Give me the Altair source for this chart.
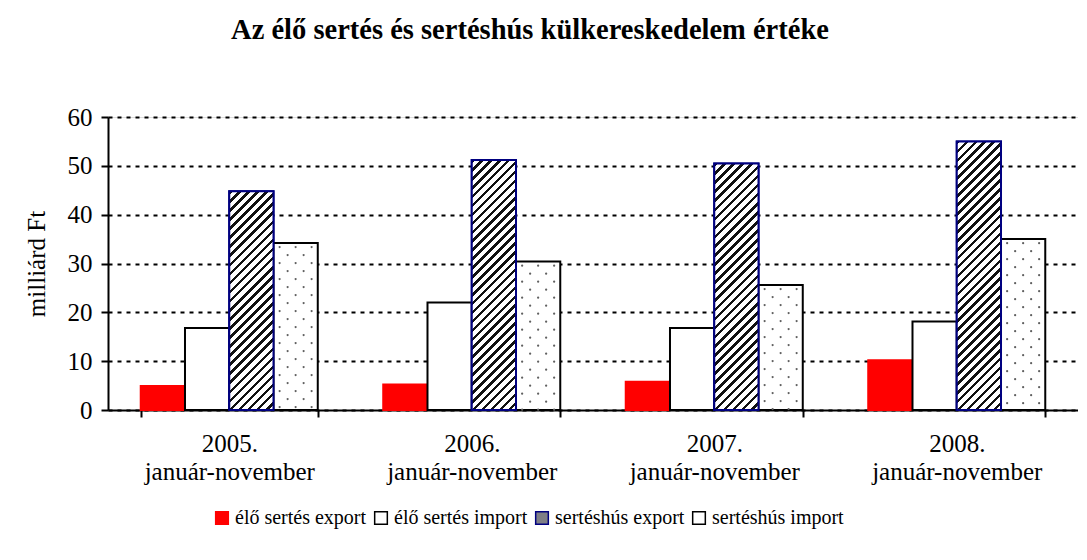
import math
import altair as alt
import pandas as pd

# ---- data ----
years = ["2005.|január-november", "2006.|január-november",
         "2007.|január-november", "2008.|január-november"]
series = ["élő sertés export", "élő sertés import",
          "sertéshús export", "sertéshús import"]
elo_export = [4.9, 5.2, 5.8, 10.2]
elo_import = [16.8, 22.0, 16.8, 18.1]
hus_export = [44.8, 51.2, 50.5, 55.0]
hus_import = [34.2, 30.4, 25.6, 35.0]
y_ticks = [0, 10, 20, 30, 40, 50, 60]

rows = []
for vals, s in zip([elo_export, elo_import, hus_export, hus_import], series):
    for y, v in zip(years, vals):
        rows.append({"year": y, "series": s, "value": v})
df = pd.DataFrame(rows)

# ---- layout / style ----
FONT = "Liberation Serif"
FS = 25
W, H = 970, 293
PAD_IN, PAD_OUT = 0.27, 0.135
step = W / (len(years) - PAD_IN + 2 * PAD_OUT)
band = step * (1 - PAD_IN)
bw = band / len(series)
YMAX = 60

x_enc = alt.X("year:N", sort=years,
              scale=alt.Scale(domain=years, paddingInner=PAD_IN, paddingOuter=PAD_OUT),
              axis=alt.Axis(title=None, labelExpr="split(datum.label, '|')",
                            labelFont=FONT, labelFontSize=FS, labelColor="black",
                            labelLineHeight=28, labelPadding=14, labelAngle=0,
                            tickBand="extent", tickSize=7, tickWidth=2, tickColor="black",
                            domainColor="black", domainWidth=2, grid=False))
y_enc = alt.Y("value:Q",
              scale=alt.Scale(domain=[0, YMAX], nice=False),
              axis=alt.Axis(title="milliárd Ft", values=y_ticks,
                            titleFont=FONT, titleFontSize=FS, titleFontWeight="normal",
                            titleColor="black", titleX=-72, titleY=H / 2,
                            titleAngle=-90, titleBaseline="middle", titleAlign="center",
                            labelFont=FONT, labelFontSize=FS, labelColor="black",
                            labelPadding=9, tickSize=7, tickWidth=2, tickColor="black",
                            domainColor="black", domainWidth=2,
                            grid=True, gridColor="black", gridWidth=2,
                            gridDash=[4, 5]))
xoff = alt.XOffset("series:N", sort=series, scale=alt.Scale(domain=series))

base = alt.Chart(df).mark_bar(strokeWidth=2).encode(
    x=x_enc, y=y_enc, xOffset=xoff,
    fill=alt.Fill("series:N", sort=series,
                  scale=alt.Scale(domain=series,
                                  range=["#ff0000", "#ffffff", "#7f7f86", "#ffffff"]),
                  legend=alt.Legend(title=None, orient="none", direction="horizontal",
                                    legendX=104, legendY=391, symbolType="square",
                                    symbolSize=160, symbolStrokeWidth=1.5,
                                    labelFont=FONT, labelFontSize=20, labelColor="black",
                                    labelOffset=3, columnPadding=4, padding=0,
                                    labelLimit=400)),
    stroke=alt.Stroke("series:N", sort=series,
                      scale=alt.Scale(domain=series,
                                      range=["#ff0000", "#000000", "#000080", "#000000"]),
                      legend=None),
)


def hatch(h_px, w_px, period_h=9.0, frac=0.4):
    """Diagonal '/' stripe gradient for a bar of the given pixel size."""
    s = (w_px + h_px) / (w_px ** 2 + h_px ** 2)
    n = max(1, round((w_px + h_px) / period_h))
    stops = []
    for k in range(n):
        a, b, c = k / n, (k + frac) / n, (k + 1) / n
        stops += [{"offset": a, "color": "#111111"}, {"offset": b, "color": "#111111"},
                  {"offset": b, "color": "#ffffff"}, {"offset": c, "color": "#ffffff"}]
    return {"gradient": "linear", "x1": 0, "y1": 0, "x2": s * w_px, "y2": s * h_px,
            "stops": stops}


layers = [base]
for y, v in zip(years, hus_export):
    grad = hatch(v / YMAX * H, bw)
    layers.append(
        alt.Chart(df).transform_filter(
            (alt.datum.year == y) & (alt.datum.series == series[2])
        ).mark_bar(fill=grad, stroke="#000080", strokeWidth=2).encode(
            x=x_enc, y=y_enc, xOffset=xoff)
    )

# dotted texture for "sertéshús import": staggered columns of dots
center_off = 1.5 * bw
for i, k in enumerate([-2, -1, 0, 1, 2]):
    layers.append(
        alt.Chart(df).transform_filter(alt.datum.series == series[3]).mark_rule(
            xOffset=center_off + k * 8, strokeDash=[0.1, 15.9],
            strokeDashOffset=(12 if i % 2 == 0 else 4),
            strokeCap="round", strokeWidth=2.2, color="#606060"
        ).encode(x=x_enc, y=y_enc, y2=alt.datum(0))
    )

chart = alt.layer(*layers).properties(
    width=W, height=H,
    autosize="none",
    padding={"left": 100, "top": 109, "right": 0, "bottom": 140},
    title=alt.Title("Az élő sertés és sertéshús külkereskedelem értéke",
                    font=FONT, fontSize=28.5, fontWeight="bold", color="black",
                    anchor="middle", dx=-63, offset=61),
).configure_view(stroke=None).configure(background="white")

chart.save("out.html", embed_options={"renderer": "svg", "actions": False})
